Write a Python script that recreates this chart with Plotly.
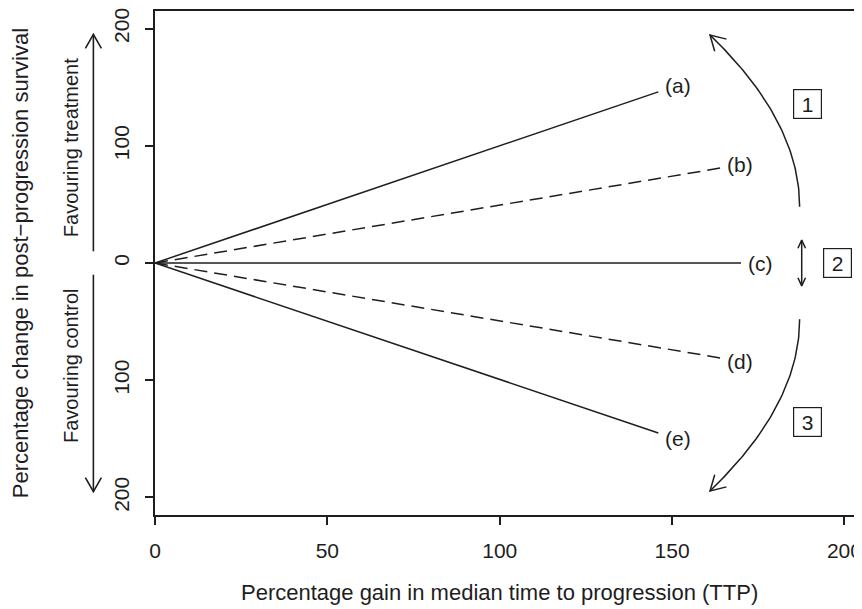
import numpy as np
import plotly.graph_objects as go

# ---- data ----
series = ["(a)", "(b)", "(c)", "(d)", "(e)"]
end_x = [146, 164, 170, 164, 146]
end_y = [146, 81, 0, -81, -145]
line_dash = ["solid", "dash", "solid", "dash", "solid"]
x_ticks = [0, 50, 100, 150, 200]
y_ticks = [-200, -100, 0, 100, 200]
y_tick_labels = ["200", "100", "0", "100", "200"]
region_labels = ["1", "2", "3"]

# ---- layout geometry (page has an 8px body margin) ----
OFF = 8
W, H = 854, 601
L, R, T, B = 147, 0, 0, 94
XR = [0, 204.8]
YR = [-215, 215]
pw, ph = W - L - R, H - T - B
sx = pw / (XR[1] - XR[0])
sy = ph / (YR[1] - YR[0])
INK = "#1e1e1e"
FONT = "Liberation Sans, Arial, Helvetica, sans-serif"


def paper_x(page_px):
    return (page_px - OFF - L) / pw


def paper_y(page_py):
    return 1 - (page_py - OFF - T) / ph


fig = go.Figure()

for name, x1, y1, d in zip(series, end_x, end_y, line_dash):
    fig.add_trace(go.Scatter(x=[0, x1], y=[0, y1], mode="lines",
                             line=dict(color=INK, width=1.5,
                                       dash="13px,7px" if d == "dash" else "solid"),
                             hoverinfo="skip", showlegend=False))
    fig.add_annotation(x=x1, y=y1 * 1.035, text=name, showarrow=False,
                       xanchor="left", yanchor="middle", xshift=5,
                       font=dict(family=FONT, size=21, color=INK))


def head(tip, direction, length_px, ang_deg):
    dx, dy = direction[0] * sx, direction[1] * sy
    n = np.hypot(dx, dy)
    bx, by = -dx / n, -dy / n
    pts = []
    for s in (1, -1):
        a = np.radians(ang_deg) * s
        rx = bx * np.cos(a) - by * np.sin(a)
        ry = bx * np.sin(a) + by * np.cos(a)
        pts.append((tip[0] + rx * length_px / sx, tip[1] + ry * length_px / sy))
    return [pts[0][0], tip[0], pts[1][0]], [pts[0][1], tip[1], pts[1][1]]


def add_line(xs, ys, w=1.5):
    fig.add_trace(go.Scatter(x=xs, y=ys, mode="lines", line=dict(color=INK, width=w),
                             hoverinfo="skip", showlegend=False))


# curved arrows (quadratic Bezier) for regions 1 and 3
t = np.linspace(0, 1, 60)
for sgn in (1, -1):
    S = np.array([187.0, 48.0 * sgn])
    C = np.array([187.0, 121.0 * sgn])
    E = np.array([161.0, 194.5 * sgn])
    curve = ((1 - t) ** 2)[:, None] * S + (2 * (1 - t) * t)[:, None] * C + (t ** 2)[:, None] * E
    add_line(curve[:, 0], curve[:, 1])
    hx, hy = head(E, E - C, 17, 30)
    add_line(hx, hy)

# short double arrow for region 2
add_line([187.6, 187.6], [-19.5, 19.5])
for sgn in (1, -1):
    hx, hy = head((187.6, 19.5 * sgn), (0, sgn), 9, 25)
    add_line(hx, hy)

# boxed region labels
for lab, (bx, by) in zip(region_labels, [(189.2, 136), (198.0, 0), (189.2, -136)]):
    fig.add_annotation(x=bx, y=by, text=lab, showarrow=False,
                       width=27, height=28, borderpad=0, borderwidth=1.2,
                       bordercolor=INK, bgcolor="white",
                       font=dict(family=FONT, size=21, color=INK))

# left-hand direction arrows (outside the plot area)
xa = paper_x(93.3)
hw = 8.0 / pw
for sgn in (1, -1):
    y0, y1 = 10 * sgn, 195 * sgn
    fig.add_shape(type="line", xref="paper", yref="y", x0=xa, x1=xa, y0=y0, y1=y1,
                  line=dict(color=INK, width=1.6))
    yb = y1 - sgn * 14 / sy
    fig.add_shape(type="path", xref="paper", yref="y",
                  path=f"M {xa - hw},{yb} L {xa},{y1} L {xa + hw},{yb}",
                  line=dict(color=INK, width=1.6))

fig.add_annotation(xref="paper", yref="y", x=paper_x(71), y=20, text="Favouring treatment",
                   textangle=-90, showarrow=False, xanchor="center", yanchor="bottom",
                   font=dict(family=FONT, size=20, color=INK))
fig.add_annotation(xref="paper", yref="y", x=paper_x(71), y=-20, text="Favouring control",
                   textangle=-90, showarrow=False, xanchor="center", yanchor="top",
                   font=dict(family=FONT, size=20, color=INK))

# axis titles
fig.add_annotation(xref="paper", yref="y", x=paper_x(20), y=0,
                   text="Percentage change in post\u2212progression survival",
                   textangle=-90, showarrow=False, xanchor="center", yanchor="middle",
                   font=dict(family=FONT, size=22, color=INK))
fig.add_annotation(xref="x", yref="paper", x=100, y=paper_y(593),
                   text="Percentage gain in median time to progression (TTP)",
                   showarrow=False, xanchor="center", yanchor="middle",
                   font=dict(family=FONT, size=22, color=INK))

fig.update_layout(
    width=W, height=H, margin=dict(l=L, r=R, t=T, b=B),
    paper_bgcolor="white", plot_bgcolor="white", showlegend=False,
    font=dict(family=FONT, color=INK),
    xaxis=dict(range=XR, tickvals=x_ticks, ticktext=[str(v) for v in x_ticks],
               showgrid=False, zeroline=False, showline=True, mirror=True,
               linecolor=INK, linewidth=2, ticks="outside", ticklen=8, tickwidth=1.5,
               tickcolor=INK, tickfont=dict(family=FONT, size=21, color=INK),
               ticklabelstandoff=8, ticklabeloverflow="allow"),
    yaxis=dict(range=YR, tickvals=y_ticks, ticktext=y_tick_labels,
               showgrid=False, zeroline=False, showline=True, mirror=False,
               linecolor=INK, linewidth=2, ticks="outside", ticklen=8, tickwidth=1.5,
               tickcolor=INK, tickangle=-90, tickfont=dict(family=FONT, size=21, color=INK),
               ticklabelstandoff=8, ticklabeloverflow="allow"),
)

fig.write_html("out.html")
